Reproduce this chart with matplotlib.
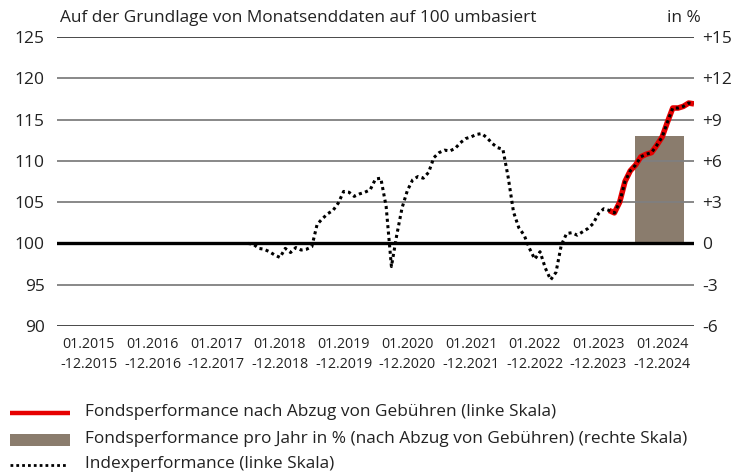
import matplotlib
matplotlib.use("Agg")
import matplotlib.pyplot as plt
from matplotlib.lines import Line2D
from matplotlib.patches import Rectangle
import numpy as np

plt.rcParams['font.family'] = ['Open Sans', 'DejaVu Sans']

# Month-end index values, rebased, starting end of 2017
index_start_year = 2018.0
index_values = [
    100.0, 99.9, 99.4, 99.3, 99.0, 98.6, 98.3, 99.4, 98.9, 99.5, 99.2, 99.3,
    99.6, 102.3, 103.0, 103.6, 104.0, 104.9, 106.3, 106.2, 105.7, 106.0, 106.2, 106.5,
    107.8, 107.9, 104.5, 97.2, 101.0, 104.3, 106.4, 107.7, 108.1, 107.9, 108.6, 110.4,
    111.0, 111.3, 111.2, 111.5, 112.2, 112.7, 112.9, 113.2, 113.3, 112.8, 112.1, 111.6,
    111.4, 108.0, 103.8, 101.9, 101.0, 99.4, 98.1, 99.0, 97.0, 95.6, 96.5, 99.8,
    101.2, 101.3, 101.0, 101.4, 101.8, 102.4, 103.6, 104.2, 104.0, 103.7, 105.0, 107.5,
    108.8, 109.5, 110.5, 110.8, 111.0, 111.9, 112.9, 114.7, 116.4, 116.4, 116.6, 117.0,
    116.9,
]
# Fund performance tracks the index from launch (month 68 of the series)
fund_start_month = 68
fund_values = index_values[fund_start_month:]

years = [2015, 2016, 2017, 2018, 2019, 2020, 2021, 2022, 2023, 2024]
year_labels = [f"01.{y}\n-12.{y}" for y in years]
bar_years = [2024]
bar_values = [7.8]

left_ticks = [90, 95, 100, 105, 110, 115, 120, 125]
right_ticks = [-6, -3, 0, 3, 6, 9, 12, 15]

RED = '#e60000'
TAUPE = '#8a7c6d'
TXT = '#222222'
DOTS = (0, (1, 1.1))

fig = plt.figure(figsize=(7.31, 4.73), dpi=100)
ax = fig.add_axes([57 / 731, 1 - 326 / 473, (694 - 57) / 731, (326 - 37) / 473])
ax2 = ax.twinx()

ax.set_xlim(2015, 2025)
ax.set_ylim(90, 125)
ax2.set_ylim(-6, 15)

# Horizontal gridlines
for v in left_ticks:
    if v == 100:
        continue
    ax.axhline(v, color='#7f7f7f' if v not in (90, 125) else '#3a3a3a', lw=1.3, zorder=1)

# Annual bars on the right-hand scale
ax2.bar([y + 0.46 for y in bar_years], bar_values, width=0.77, color=TAUPE, zorder=2)

t_index = index_start_year + np.arange(len(index_values)) / 12.0
t_fund = t_index[fund_start_month:]
ax2.set_zorder(ax.get_zorder() - 1)
ax.patch.set_visible(False)

# Lines on an overlay so they sit above the bars
ax3 = ax.twinx()
ax3.set_ylim(90, 125)
ax3.set_xlim(2015, 2025)
ax3.axis('off')
ax3.axhline(100, color='black', lw=2.4, zorder=5)
ax3.plot(t_fund, fund_values, color=RED, lw=4.0, solid_capstyle='butt', zorder=6)
ax3.plot(t_index, index_values, color='black', lw=2.2, linestyle=DOTS, zorder=7)

for a in (ax, ax2):
    for s in a.spines.values():
        s.set_visible(False)
    a.tick_params(length=0)

ax.set_yticks(left_ticks)
ax.set_yticklabels([str(v) for v in left_ticks], fontsize=12.5, color=TXT)
ax.tick_params(axis='y', pad=9)
ax2.set_yticks(right_ticks)
ax2.set_yticklabels([("+" if v > 0 else "") + str(v) for v in right_ticks], fontsize=12.5, color=TXT)
ax2.tick_params(axis='y', pad=6)

ax.set_xticks([y + 0.5 for y in years])
ax.set_xticklabels(year_labels, fontsize=10.3, color=TXT, linespacing=1.45)
ax.tick_params(axis='x', pad=8)

fig.text(60 / 731, 1 - 18 / 473, "Auf der Grundlage von Monatsenddaten auf 100 umbasiert",
         fontsize=12.4, va='center', ha='left', color=TXT)
fig.text(701 / 731, 1 - 18 / 473, "in %", fontsize=12.4, va='center', ha='right', color=TXT)

# Legend drawn in figure pixel coordinates
W, H = 731.0, 473.0
def fx(px):
    return px / W
def fy(py):
    return 1 - py / H

fig.add_artist(Line2D([fx(10), fx(70)], [fy(413), fy(413)], color=RED, lw=3.2,
                      solid_capstyle='butt', transform=fig.transFigure))
fig.add_artist(Rectangle((fx(10), fy(446)), fx(70) - fx(10), fy(434) - fy(446),
                         facecolor=TAUPE, edgecolor='none', transform=fig.transFigure))
fig.add_artist(Line2D([fx(10), fx(66)], [fy(465), fy(465)], color='black', lw=2.0,
                      linestyle=DOTS, transform=fig.transFigure))

legend_labels = [
    "Fondsperformance nach Abzug von Gebühren (linke Skala)",
    "Fondsperformance pro Jahr in % (nach Abzug von Gebühren) (rechte Skala)",
    "Indexperformance (linke Skala)",
]
for lab, yy in zip(legend_labels, [412, 439, 464]):
    fig.text(fx(85), fy(yy), lab, fontsize=12.4, va='center', ha='left', color=TXT)

fig.savefig("out.png", dpi=100)
